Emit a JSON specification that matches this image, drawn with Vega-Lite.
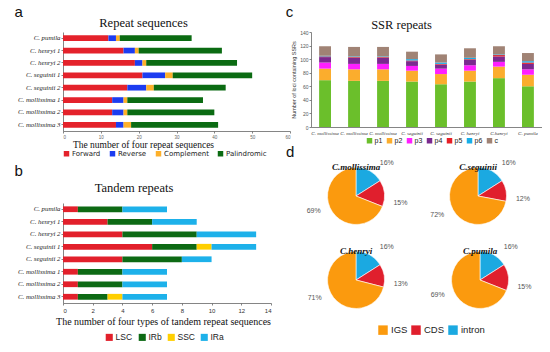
{
  "$schema": "https://vega.github.io/schema/vega-lite/v6.json",
  "padding": {"left": 14, "top": 4, "right": 0, "bottom": 0},
  "background": "white",
  "config": {
    "view": {"stroke": null},
    "axis": {"domainColor": "#666", "tickColor": "#666", "grid": false, "labelColor": "#333", "domainWidth": 0.8, "tickWidth": 0.8},
    "title": {"font": "Liberation Serif", "fontWeight": "normal", "color": "#111"},
    "legend": {"symbolStrokeWidth": 0, "labelColor": "#222"}
  },
  "datasets": {
    "repeat": [
      {"sp": "C. pumila", "Forward": 12, "Reverse": 2, "Complement": 1, "Palindromic": 19},
      {"sp": "C. henryi 1", "Forward": 16, "Reverse": 3, "Complement": 1, "Palindromic": 22},
      {"sp": "C. henryi 2", "Forward": 19, "Reverse": 2, "Complement": 1, "Palindromic": 24},
      {"sp": "C. seguinii 1", "Forward": 21, "Reverse": 6, "Complement": 2, "Palindromic": 21},
      {"sp": "C. seguinii 2", "Forward": 17, "Reverse": 5, "Complement": 2, "Palindromic": 19},
      {"sp": "C. mollissima 1", "Forward": 13, "Reverse": 3, "Complement": 1, "Palindromic": 20},
      {"sp": "C. mollissima 2", "Forward": 13, "Reverse": 3, "Complement": 1, "Palindromic": 23},
      {"sp": "C. mollissima 3", "Forward": 14, "Reverse": 2, "Complement": 2, "Palindromic": 23}
    ],
    "tandem": [
      {"sp": "C. pumila", "LSC": 1, "IRb": 3, "SSC": 0, "IRa": 3},
      {"sp": "C. henryi 1", "LSC": 3, "IRb": 3, "SSC": 0, "IRa": 3},
      {"sp": "C. henryi 2", "LSC": 4, "IRb": 5, "SSC": 0, "IRa": 4},
      {"sp": "C. seguinii 1", "LSC": 6, "IRb": 3, "SSC": 1, "IRa": 3},
      {"sp": "C. seguinii 2", "LSC": 4, "IRb": 4, "SSC": 0, "IRa": 2},
      {"sp": "C. mollissima 1", "LSC": 1, "IRb": 3, "SSC": 0, "IRa": 3},
      {"sp": "C. mollissima 2", "LSC": 1, "IRb": 3, "SSC": 0, "IRa": 3},
      {"sp": "C. mollissima 3", "LSC": 1, "IRb": 2, "SSC": 1, "IRa": 3}
    ],
    "ssr": [
      {"sp": "C. mollissima 1", "p1": 69, "p2": 17, "p3": 9, "p4": 8, "p5": 1, "p6": 1, "c": 14},
      {"sp": "C. mollissima 2", "p1": 68, "p2": 17, "p3": 8, "p4": 9, "p5": 1, "p6": 1, "c": 14},
      {"sp": "C. mollissima 3", "p1": 68, "p2": 17, "p3": 8, "p4": 9, "p5": 1, "p6": 1, "c": 14},
      {"sp": "C. seguinii 1", "p1": 67, "p2": 16, "p3": 7, "p4": 7, "p5": 1, "p6": 2, "c": 11},
      {"sp": "C. seguinii 2", "p1": 63, "p2": 15, "p3": 8, "p4": 6, "p5": 1, "p6": 2, "c": 12},
      {"sp": "C. henryi 1", "p1": 67, "p2": 16, "p3": 8, "p4": 8, "p5": 1, "p6": 2, "c": 14},
      {"sp": "C.henryi 2", "p1": 72, "p2": 17, "p3": 7, "p4": 8, "p5": 2, "p6": 1, "c": 12},
      {"sp": "C. pumila 1", "p1": 60, "p2": 17, "p3": 8, "p4": 8, "p5": 2, "p6": 2, "c": 12}
    ],
    "pie": [
      {"species": "C.mollissima", "part": "intron", "pct": 16},
      {"species": "C.mollissima", "part": "CDS", "pct": 15},
      {"species": "C.mollissima", "part": "IGS", "pct": 69},
      {"species": "C.seguinii", "part": "intron", "pct": 16},
      {"species": "C.seguinii", "part": "CDS", "pct": 12},
      {"species": "C.seguinii", "part": "IGS", "pct": 72},
      {"species": "C.henryi", "part": "intron", "pct": 16},
      {"species": "C.henryi", "part": "CDS", "pct": 13},
      {"species": "C.henryi", "part": "IGS", "pct": 71},
      {"species": "C.pumila", "part": "intron", "pct": 16},
      {"species": "C.pumila", "part": "CDS", "pct": 15},
      {"species": "C.pumila", "part": "IGS", "pct": 69}
    ]
  },
  "spacing": -6,
  "resolve": {"scale": {"color": "independent"}, "legend": {"color": "independent"}},
  "hconcat": [
    {
      "spacing": 6,
      "resolve": {"scale": {"color": "independent"}, "legend": {"color": "independent"}},
      "vconcat": [
        {
          "title": {"text": "a", "anchor": "start", "font": "Liberation Sans", "fontSize": 15, "offset": -3, "dx": -3},
          "resolve": {"scale": {"color": "independent"}, "legend": {"color": "independent"}},
          "vconcat": [
            {
              "title": {"text": "Repeat sequences", "fontSize": 12.5, "offset": 3, "frame": "group", "dx": -33},
              "width": 227,
              "height": 99,
              "data": {"name": "repeat"},
              "transform": [
                {"fold": ["Forward", "Reverse", "Complement", "Palindromic"], "as": ["type", "n"]},
                {"calculate": "indexof(['Forward','Reverse','Complement','Palindromic'], datum.type)", "as": "k"}
              ],
              "mark": {"type": "bar"},
              "encoding": {
                "y": {"field": "sp", "type": "nominal",
                  "sort": ["C. pumila", "C. henryi 1", "C. henryi 2", "C. seguinii 1", "C. seguinii 2", "C. mollissima 1", "C. mollissima 2", "C. mollissima 3"],
                  "scale": {"paddingInner": 0.54, "paddingOuter": 0.27},
                  "axis": {"title": null, "labelFont": "Liberation Serif", "labelFontStyle": "italic", "labelFontSize": 6.8, "labelColor": "#222", "tickSize": 2, "labelPadding": 1}},
                "x": {"field": "n", "type": "quantitative", "stack": "zero", "scale": {"domain": [0, 60]},
                  "axis": {"values": [0, 10, 20, 30, 40, 50, 60], "labelFontSize": 4.5, "labelColor": "#666", "tickSize": 2, "labelPadding": 1,
                    "title": "The number of four repeat sequences", "titleFont": "Liberation Serif", "titleFontSize": 9.5, "titleFontWeight": "normal", "titleColor": "#111", "titlePadding": 1, "titleX": 80}},
                "color": {"field": "type", "type": "nominal",
                  "scale": {"domain": ["Forward", "Reverse", "Complement", "Palindromic"], "range": ["#e4222b", "#1c3cf0", "#fdb02a", "#0b6b12"]},
                  "legend": {"orient": "bottom", "direction": "horizontal", "title": null, "symbolType": "square", "symbolSize": 30, "labelFontSize": 7, "labelFont": "DejaVu Sans", "offset": 1, "columnPadding": 8, "labelOffset": 2}},
                "order": {"field": "k"}
              }
            }
          ]
        },
        {
          "title": {"text": "b", "anchor": "start", "font": "Liberation Sans", "fontSize": 15, "offset": 0, "dx": -3, "dy": -3},
          "resolve": {"scale": {"color": "independent"}, "legend": {"color": "independent"}},
          "vconcat": [
            {
              "title": {"text": "Tandem repeats", "fontSize": 12.5, "offset": 9, "frame": "group", "dx": -33},
              "width": 208,
              "height": 100,
              "data": {"name": "tandem"},
              "transform": [
                {"fold": ["LSC", "IRb", "SSC", "IRa"], "as": ["type", "n"]},
                {"calculate": "indexof(['LSC','IRb','SSC','IRa'], datum.type)", "as": "k"}
              ],
              "mark": {"type": "bar"},
              "encoding": {
                "y": {"field": "sp", "type": "nominal",
                  "sort": ["C. pumila", "C. henryi 1", "C. henryi 2", "C. seguinii 1", "C. seguinii 2", "C. mollissima 1", "C. mollissima 2", "C. mollissima 3"],
                  "scale": {"paddingInner": 0.54, "paddingOuter": 0.27},
                  "axis": {"title": null, "labelFont": "Liberation Serif", "labelFontStyle": "italic", "labelFontSize": 6.8, "labelColor": "#222", "tickSize": 2, "labelPadding": 1}},
                "x": {"field": "n", "type": "quantitative", "stack": "zero", "scale": {"domain": [0, 14]},
                  "axis": {"values": [0, 2, 4, 6, 8, 10, 12, 14], "labelFontSize": 6, "labelColor": "#333", "tickSize": 2, "labelPadding": 2,
                    "title": "The number of four types of tandem repeat sequences", "titleFont": "Liberation Serif", "titleFontSize": 10, "titleFontWeight": "normal", "titleColor": "#111", "titlePadding": 3, "titleX": 100}},
                "color": {"field": "type", "type": "nominal",
                  "scale": {"domain": ["LSC", "IRb", "SSC", "IRa"], "range": ["#e2202b", "#0d6a14", "#ffcf00", "#1db1ea"]},
                  "legend": {"orient": "none", "legendX": 42, "legendY": 130, "direction": "horizontal", "title": null, "symbolType": "square", "symbolSize": 50, "labelFontSize": 8.5, "labelFont": "Liberation Sans", "columnPadding": 5, "labelOffset": 2}},
                "order": {"field": "k"}
              }
            }
          ]
        }
      ]
    },
    {
      "spacing": 1,
      "resolve": {"scale": {"color": "independent"}, "legend": {"color": "independent"}},
      "vconcat": [
        {
          "title": {"text": "c", "anchor": "start", "font": "Liberation Sans", "fontSize": 15, "offset": -1, "dx": -6},
          "resolve": {"scale": {"color": "independent"}, "legend": {"color": "independent"}},
          "vconcat": [
            {
              "title": {"text": "SSR repeats", "fontSize": 12.5, "offset": 7, "dy": 8, "frame": "group", "dx": -25},
              "width": 231,
              "height": 95,
              "data": {"name": "ssr"},
              "transform": [
                {"fold": ["p1", "p2", "p3", "p4", "p5", "p6", "c"], "as": ["type", "n"]},
                {"calculate": "indexof(['p1','p2','p3','p4','p5','p6','c'], datum.type)", "as": "k"}
              ],
              "mark": {"type": "bar"},
              "encoding": {
                "x": {"field": "sp", "type": "nominal", "sort": null,
                  "scale": {"paddingInner": 0.59, "paddingOuter": 0.28},
                  "axis": {"title": null, "labelAngle": 0, "labelExpr": "slice(datum.label, 0, -2)", "labelFont": "Liberation Serif", "labelFontStyle": "italic", "labelFontSize": 5, "labelColor": "#333", "ticks": false, "labelPadding": 3}},
                "y": {"field": "n", "type": "quantitative", "stack": "zero", "scale": {"domain": [0, 140]},
                  "axis": {"values": [0, 20, 40, 60, 80, 100, 120, 140], "labelFontSize": 5, "labelColor": "#555", "tickSize": 2, "labelPadding": 1,
                    "title": "Number of loci containing SSRs", "titleFont": "Liberation Sans", "titleFontSize": 5.5, "titleFontWeight": "normal", "titleColor": "#333", "titlePadding": 3}},
                "color": {"field": "type", "type": "nominal",
                  "scale": {"domain": ["p1", "p2", "p3", "p4", "p5", "p6", "c"], "range": ["#6bbf2b", "#fbad2d", "#ff1fff", "#7a2a8f", "#e61f26", "#17aee8", "#a08375"]},
                  "legend": {"orient": "none", "legendX": 55, "legendY": 105, "direction": "horizontal", "title": null, "symbolType": "square", "symbolSize": 30, "labelFontSize": 7, "labelFont": "Liberation Sans", "columnPadding": 3, "labelOffset": 1.5}},
                "order": {"field": "k"}
              }
            }
          ]
        },
        {
          "title": {"text": "d", "orient": "left", "angle": 0, "anchor": "end", "baseline": "top", "frame": "group", "font": "Liberation Sans", "fontSize": 15, "offset": 4, "dy": -22},
          "data": {"name": "pie"},
          "transform": [
            {"calculate": "indexof(['intron','CDS','IGS'], datum.part)", "as": "k"},
            {"calculate": "datum.pct + '%'", "as": "lab"}
          ],
          "spacing": 17,
          "vconcat": [
            {
              "spacing": 22,
              "hconcat": [
                {
                  "title": {"text": "C.mollissima", "font": "Liberation Serif", "fontStyle": "italic", "fontWeight": "bold", "fontSize": 9, "offset": -8, "dy": 5, "frame": "group"},
                  "transform": [{"filter": "datum.species == 'C.mollissima'"}],
                  "width": 90, "height": 58,
                  "encoding": {"theta": {"field": "pct", "type": "quantitative", "stack": true}, "order": {"field": "k"}},
                  "layer": [
                    {"mark": {"type": "arc", "outerRadius": 28.5, "stroke": "white", "strokeWidth": 0.6},
                     "encoding": {"color": {"field": "part", "type": "nominal", "scale": {"domain": ["IGS", "CDS", "intron"], "range": ["#fb9a0e", "#e01f2d", "#1ba9e1"]},
                       "legend": {"orient": "none", "legendX": 67, "legendY": 158, "direction": "horizontal", "title": null, "symbolType": "square", "symbolSize": 90, "labelFontSize": 9.5, "labelFont": "Liberation Sans", "columnPadding": 3, "labelOffset": 3}}}},
                    {"mark": {"type": "text", "radius": 45, "thetaOffset": 0.25, "fontSize": 7, "font": "Liberation Sans", "fill": "#555"}, "encoding": {"text": {"field": "lab"}}}
                  ]
                },
                {
                  "title": {"text": "C.seguinii", "font": "Liberation Serif", "fontStyle": "italic", "fontWeight": "bold", "fontSize": 9, "offset": -8, "dy": 5, "frame": "group"},
                  "transform": [{"filter": "datum.species == 'C.seguinii'"}],
                  "width": 90, "height": 58,
                  "encoding": {"theta": {"field": "pct", "type": "quantitative", "stack": true}, "order": {"field": "k"}},
                  "layer": [
                    {"mark": {"type": "arc", "outerRadius": 28.5, "stroke": "white", "strokeWidth": 0.6},
                     "encoding": {"color": {"field": "part", "type": "nominal", "scale": {"domain": ["IGS", "CDS", "intron"], "range": ["#fb9a0e", "#e01f2d", "#1ba9e1"]}}}},
                    {"mark": {"type": "text", "radius": 45, "thetaOffset": 0.25, "fontSize": 7, "font": "Liberation Sans", "fill": "#555"}, "encoding": {"text": {"field": "lab"}}}
                  ]
                }
              ]
            },
            {
              "spacing": 22,
              "hconcat": [
                {
                  "title": {"text": "C.henryi", "font": "Liberation Serif", "fontStyle": "italic", "fontWeight": "bold", "fontSize": 9, "offset": -8, "dy": 5, "frame": "group"},
                  "transform": [{"filter": "datum.species == 'C.henryi'"}],
                  "width": 90, "height": 58,
                  "encoding": {"theta": {"field": "pct", "type": "quantitative", "stack": true}, "order": {"field": "k"}},
                  "layer": [
                    {"mark": {"type": "arc", "outerRadius": 28.5, "stroke": "white", "strokeWidth": 0.6},
                     "encoding": {"color": {"field": "part", "type": "nominal", "scale": {"domain": ["IGS", "CDS", "intron"], "range": ["#fb9a0e", "#e01f2d", "#1ba9e1"]}}}},
                    {"mark": {"type": "text", "radius": 45, "thetaOffset": 0.25, "fontSize": 7, "font": "Liberation Sans", "fill": "#555"}, "encoding": {"text": {"field": "lab"}}}
                  ]
                },
                {
                  "title": {"text": "C.pumila", "font": "Liberation Serif", "fontStyle": "italic", "fontWeight": "bold", "fontSize": 9, "offset": -8, "dy": 5, "frame": "group"},
                  "transform": [{"filter": "datum.species == 'C.pumila'"}],
                  "width": 90, "height": 58,
                  "encoding": {"theta": {"field": "pct", "type": "quantitative", "stack": true}, "order": {"field": "k"}},
                  "layer": [
                    {"mark": {"type": "arc", "outerRadius": 28.5, "stroke": "white", "strokeWidth": 0.6},
                     "encoding": {"color": {"field": "part", "type": "nominal", "scale": {"domain": ["IGS", "CDS", "intron"], "range": ["#fb9a0e", "#e01f2d", "#1ba9e1"]}}}},
                    {"mark": {"type": "text", "radius": 45, "thetaOffset": 0.25, "fontSize": 7, "font": "Liberation Sans", "fill": "#555"}, "encoding": {"text": {"field": "lab"}}}
                  ]
                }
              ]
            }
          ]
        }
      ]
    }
  ]
}
